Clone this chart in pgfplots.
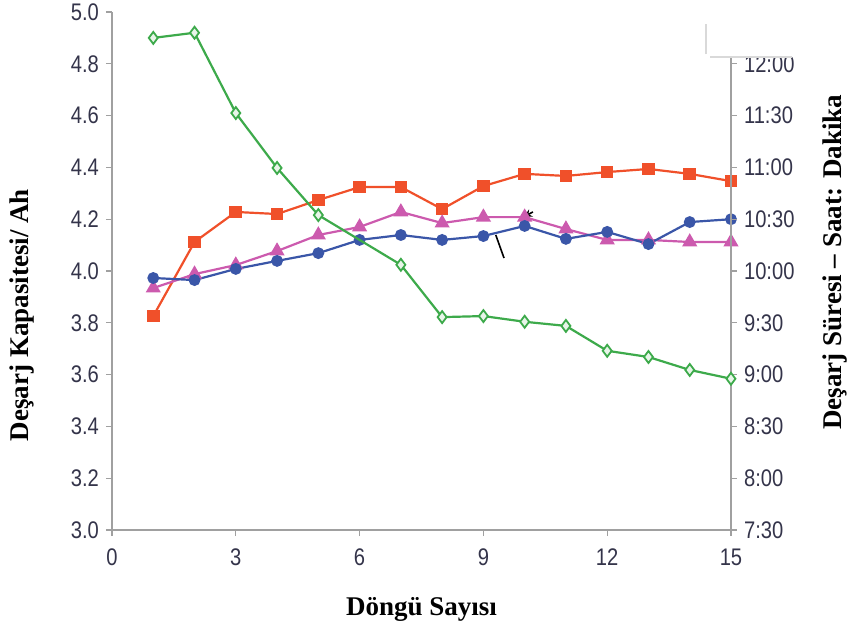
\documentclass[border=0pt]{standalone}
\usepackage{fontspec}
\setmainfont{Liberation Serif}
\setsansfont{Liberation Sans}[FakeStretch=0.84]
\usepackage{pgfplots}
\pgfplotsset{compat=1.18}

\definecolor{axisgray}{HTML}{A0A0A0}
\definecolor{ticktext}{HTML}{34344A}
\definecolor{cgreen}{HTML}{3DAA4B}
\definecolor{cred}{HTML}{F0502A}
\definecolor{cblue}{HTML}{3A56A8}
\definecolor{cmag}{HTML}{CC5AAE}

\pgfplotsset{
  base/.style={
    at={(0,0)}, anchor=south west,
    scale only axis, width=309.5pt, height=259pt,
    xmin=0, xmax=15,
    axis line style={draw=axisgray, line width=0.75pt},
    major tick length=3pt,
    tick align=outside,
    tick style={draw=axisgray, line width=0.6pt},
    ticklabel style={font=\sffamily\fontsize{12}{14}\selectfont, text=ticktext},
    /pgf/number format/assume math mode=true,
    label style={font=\bfseries\fontsize{13.5}{15}\selectfont},
  },
}

\begin{document}
\begin{tikzpicture}
\path[use as bounding box] (-56pt,-52pt) rectangle (368pt,265pt);

\begin{axis}[base,
  ymin=3, ymax=5,
  xtick={0,3,...,15}, ytick={3,3.2,...,5},
  yticklabel style={/pgf/number format/.cd, fixed, fixed zerofill, precision=1},
  xticklabel style={yshift=-3pt},
  axis x line*=bottom, axis y line*=left,
  xlabel={Döngü Sayısı},
  xlabel style={at={(axis description cs:0.5,-0.1525)}, anchor=center},
  ylabel={Deşarj Kapasitesi/ Ah},
  ylabel style={at={(axis description cs:-0.1446,0.415)}, anchor=center},
]
% red squares
\addplot[cred, line width=1.1pt, mark=square*, mark size=2.6pt] coordinates {
  (1,3.826) (2,4.112) (3,4.228) (4,4.220) (5,4.274) (6,4.324) (7,4.324)
  (8,4.239) (9,4.328) (10,4.375) (11,4.367) (12,4.382) (13,4.394) (14,4.375) (15,4.347)
};
% magenta triangles
\addplot[cmag, line width=1.1pt, mark=triangle*, mark size=3.3pt] coordinates {
  (1,3.934) (2,3.988) (3,4.023) (4,4.077) (5,4.139) (6,4.170) (7,4.228)
  (8,4.185) (9,4.208) (10,4.208) (11,4.162) (12,4.120) (13,4.120) (14,4.112) (15,4.112)
};
% blue circles
\addplot[cblue, line width=1.1pt, mark=*, mark size=2.4pt] coordinates {
  (1,3.973) (2,3.965) (3,4.008) (4,4.039) (5,4.069) (6,4.120) (7,4.139)
  (8,4.120) (9,4.135) (10,4.174) (11,4.124) (12,4.151) (13,4.104) (14,4.189) (15,4.200)
};
% stray leader lines
\draw[black, line width=0.8pt] (axis cs:9.30,4.139) -- (axis cs:9.50,4.050);
\draw[black, line width=0.8pt, -stealth] (axis cs:10.20,4.228) -- (axis cs:9.98,4.209);
\end{axis}

\begin{axis}[base,
  ymin=7.5, ymax=12.5,
  axis x line=none, axis y line*=right,
  ytick={7.5,8,...,12},
  yticklabels={7:30,8:00,8:30,9:00,9:30,10:00,10:30,11:00,11:30,12:00},
  ylabel={Deşarj Süresi – Saat: Dakika},
  ylabel style={at={(axis description cs:1.168,0.517)}, anchor=center},
]
% green diamonds (discharge time, hours)
\addplot[cgreen, line width=1.1pt, mark=diamond*, mark size=3pt,
  mark options={fill=cgreen!12, line width=0.9pt}] coordinates {
  (1,12.25) (2,12.30) (3,11.525) (4,10.995) (5,10.54) (7,10.06)
  (8,9.555) (9,9.565) (10,9.51) (11,9.47) (12,9.23) (13,9.17) (14,9.045) (15,8.96)
};
\end{axis}

% white patch over the top of the right axis, as in the reference
\fill[white] (297pt,236.5pt) rectangle (368pt,265pt);
\draw[black!15, line width=0.6pt] (297pt,238pt) -- (297pt,253pt);
\draw[black!15, line width=0.6pt] (299pt,236.5pt) -- (340pt,236.5pt);
\end{tikzpicture}
\end{document}
